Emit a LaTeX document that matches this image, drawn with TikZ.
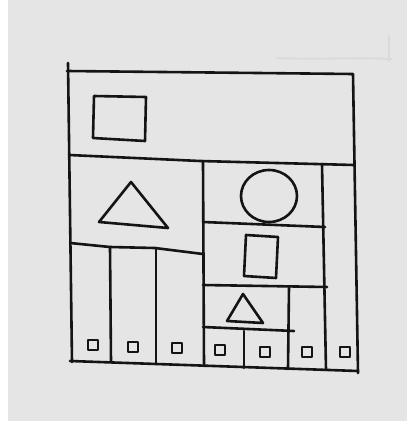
\documentclass[tikz,border=0pt]{standalone}
\begin{document}
\begin{tikzpicture}[x=1pt,y=-1pt,
  ink/.style={draw=black!92,line width=2.6pt,line cap=round,line join=round},
  faint/.style={draw=black!15,line width=1.6pt,line cap=round}]
\useasboundingbox (0,0) rectangle (407,423);
\fill[white] (0,0) rectangle (407,423);
\fill[black!10] (8,0) rectangle (407,421);
% faint pencil marks
\draw[faint] (277,58) .. controls (320,60) and (350,57) .. (392,59);
\draw[faint] (389,36) -- (389,61);
% outer frame
\draw[ink] (68,63) -- (72,362);
\draw[ink] (67,71) -- (353,74) -- (358,373);
\draw[ink] (70,361) -- (358,371);
% divider 1
\draw[ink] (69,155) -- (200,161) -- (354,165);
% top square
\draw[ink] (94,96) -- (146,97) -- (145,141) -- (93,138) -- cycle;
% verticals
\draw[ink] (203,161) -- (204,366);
\draw[ink] (322,164) -- (326,370);
% big triangle
\draw[ink] (131,182) -- (168,228) -- (99,222) -- cycle;
% divider 2 left
\draw[ink] (70,243) -- (110,247) -- (155,248) -- (203,254);
\draw[ink] (110,247) -- (111,362);
\draw[ink] (156,248) -- (156,364);
% circle
\draw[ink] (269,196) ellipse [x radius=28, y radius=26];
% right dividers
\draw[ink] (203,222) -- (325,227);
\draw[ink] (246,235) -- (278,237) -- (276,278) -- (244,276) -- cycle;
\draw[ink] (203,285) -- (327,287);
\draw[ink] (289,287) -- (288,369);
\draw[ink] (243,294) -- (263,323) -- (227,321) -- cycle;
\draw[ink] (203,327) -- (294,331);
\draw[ink] (244,331) -- (244,368);
% small squares
\foreach \x/\y in {93/345,133/347,177/348,220/350,265/352,307/352,345/352}
  \draw[ink,line width=2.5pt] (\x-5,\y-5) rectangle (\x+5,\y+5);
\end{tikzpicture}
\end{document}
